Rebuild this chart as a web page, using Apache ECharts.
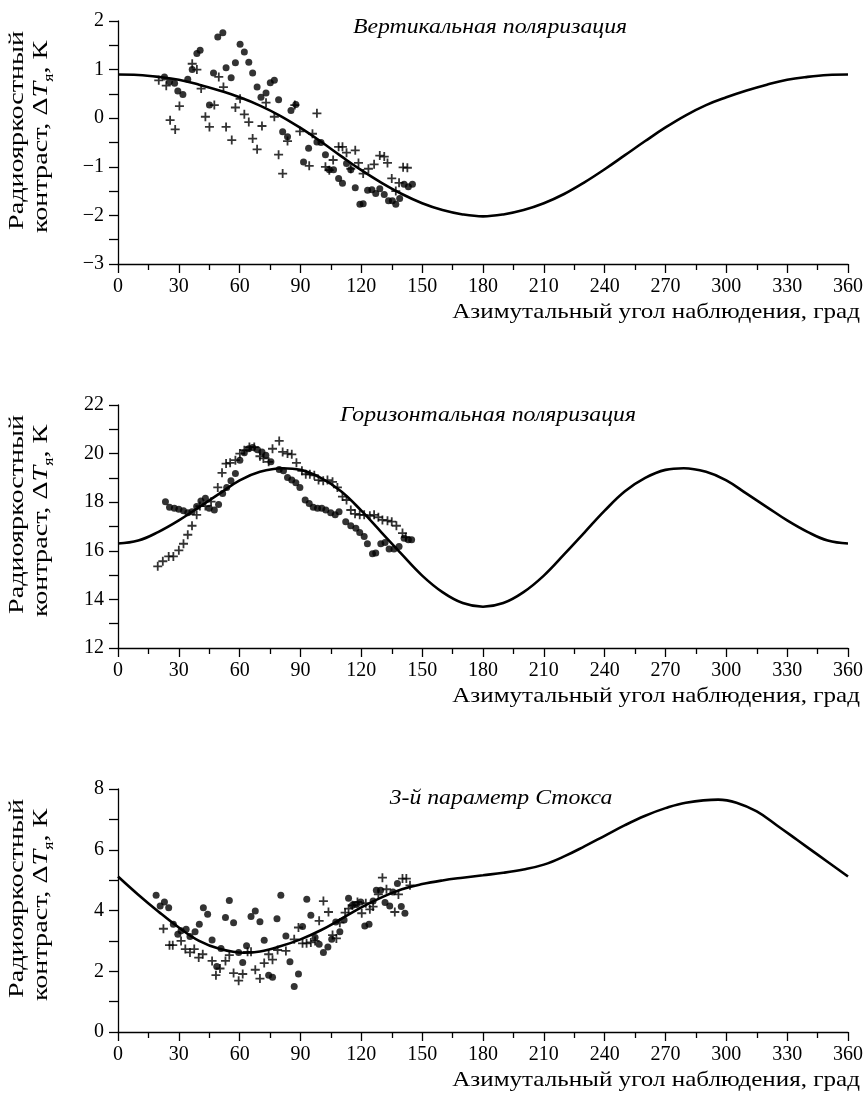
<!DOCTYPE html>
<html>
<head>
<meta charset="utf-8">
<title>Радиояркостный контраст</title>
<script src="https://cdn.jsdelivr.net/npm/echarts@6/dist/echarts.min.js"></script>
<style>
  html, body { margin: 0; padding: 0; background: #fff; }
  #chart { width: 866px; height: 1108px; }
</style>
</head>
<body>
<div id="chart"></div>
<script type="text/javascript">
// --- вертикальная поляризация ---
var vCurveX = [0, 10, 20, 30, 40, 50, 60, 70, 80, 90, 100, 110, 120, 130, 140, 150, 160, 170, 180,
               190, 200, 210, 220, 230, 240, 250, 260, 270, 280, 290, 300, 310, 320, 330, 340, 350, 360];
var vCurveY = [0.90, 0.89, 0.85, 0.79, 0.69, 0.57, 0.43, 0.26, 0.05, -0.20, -0.48, -0.78, -1.07, -1.33,
               -1.56, -1.75, -1.89, -1.98, -2.02, -1.98, -1.89, -1.75, -1.56, -1.32, -1.05, -0.76, -0.47,
               -0.19, 0.06, 0.27, 0.43, 0.57, 0.69, 0.79, 0.85, 0.89, 0.90];
var vDotX = [22.9, 25.4, 27.9, 29.5, 32.0, 34.4, 36.6, 38.9, 40.5, 45.1, 47.1, 49.2, 51.7, 53.3,
             55.8, 57.9, 60.2, 62.3, 64.5, 66.4, 68.6, 70.5, 73.0, 75.1, 77.1, 79.2, 81.2, 83.6,
             85.3, 87.7, 91.5, 94.0, 98.1, 100.1, 102.3, 104.2, 106.3, 108.8, 110.7, 112.7, 114.8,
             117.0, 119.3, 120.9, 123.1, 125.2, 127.1, 129.1, 131.3, 133.4, 135.3, 137.0, 138.9,
             141.1, 143.2, 145.2];
var vDotY = [0.85, 0.75, 0.72, 0.56, 0.49, 0.80, 1.00, 1.33, 1.40, 0.27, 0.93, 1.67, 1.76, 1.04,
             0.83, 1.14, 1.52, 1.36, 1.15, 0.93, 0.64, 0.43, 0.52, 0.73, 0.78, 0.38, -0.28, -0.38,
             0.16, 0.28, -0.90, -0.62, -0.49, -0.50, -0.75, -1.06, -1.06, -1.24, -1.34, -0.93, -1.06,
             -1.43, -1.77, -1.76, -1.48, -1.47, -1.55, -1.45, -1.57, -1.70, -1.70, -1.77, -1.65,
             -1.36, -1.41, -1.36];
var vCrossX = [20.1, 23.8, 25.7, 28.2, 30.3, 36.6, 38.9, 41.0, 43.1, 45.1, 47.5, 49.7, 52.0, 53.3,
               56.1, 57.9, 60.2, 62.3, 64.5, 66.4, 68.6, 71.0, 73.0, 77.1, 79.2, 81.2, 83.6, 87.2,
               89.7, 94.3, 95.9, 98.1, 102.3, 104.2, 106.1, 108.8, 110.7, 112.7, 114.8, 117.0, 118.6,
               120.9, 123.5, 126.3, 129.1, 131.3, 132.9, 135.0, 137.0, 138.6, 140.6, 142.7];
var vCrossY = [0.78, 0.67, -0.04, -0.23, 0.25, 1.12, 1.00, 0.61, 0.03, -0.18, 0.27, 0.85, 0.64, -0.18,
               -0.45, 0.22, 0.40, 0.08, -0.08, -0.42, -0.64, -0.16, 0.32, 0.03, -0.75, -1.14, -0.47, 0.27,
               -0.27, -0.98, -0.32, 0.10, -1.00, -1.07, -0.86, -0.59, -0.59, -0.71, -1.04, -0.66, -0.92,
               -1.14, -1.04, -0.95, -0.77, -0.79, -0.92, -1.24, -1.50, -1.33, -1.01, -1.02];

// --- горизонтальная поляризация ---
var hCurveX = [0, 10, 20, 30, 40, 50, 60, 70, 81, 90, 100, 110, 120, 130, 140, 150, 160, 170, 180,
               190, 200, 210, 220, 230, 240, 250, 260, 270, 279, 290, 300, 310, 320, 330, 340, 350, 360];
var hCurveY = [16.30, 16.42, 16.78, 17.25, 17.80, 18.35, 18.90, 19.25, 19.40, 19.33, 19.00, 18.45, 17.65,
               16.75, 15.85, 14.98, 14.30, 13.85, 13.70, 13.85, 14.30, 14.98, 15.85, 16.75, 17.65, 18.45,
               19.00, 19.33, 19.40, 19.25, 18.90, 18.35, 17.80, 17.25, 16.78, 16.42, 16.30];
var hDotX = [23.4, 25.4, 27.8, 30.0, 32.3, 34.4, 36.5, 38.8, 40.9, 43.1, 45.0, 47.5, 49.6, 51.6,
             53.6, 55.7, 57.9, 60.1, 62.3, 64.4, 66.4, 68.8, 71.0, 72.9, 75.4, 79.5, 81.6, 83.6,
             85.7, 87.7, 89.7, 92.3, 94.3, 96.3, 98.4, 100.5, 102.5, 104.9, 107.1, 109.0, 112.3,
             114.8, 117.3, 119.2, 121.4, 123.0, 125.5, 127.1, 129.6, 131.7, 133.7, 136.1, 138.6,
             141.1, 143.2, 144.8];
var hDotY = [18.02, 17.79, 17.75, 17.71, 17.65, 17.57, 17.61, 17.82, 18.05, 18.16, 17.75, 17.68, 17.91, 18.36,
             18.61, 18.88, 19.18, 19.73, 20.03, 20.20, 20.25, 20.16, 20.07, 19.93, 19.66, 19.35, 19.29, 19.02,
             18.91, 18.80, 18.61, 18.09, 17.95, 17.79, 17.75, 17.75, 17.68, 17.57, 17.48, 17.61, 17.20,
             17.03, 16.93, 16.75, 16.59, 16.29, 15.88, 15.91, 16.29, 16.34, 16.07, 16.07, 16.18,
             16.52, 16.45, 16.45];
var hCrossX = [19.6, 22.1, 25.0, 27.3, 30.0, 32.3, 34.4, 36.5, 38.8, 40.4, 43.1, 45.9, 49.2, 51.3,
               53.3, 55.3, 57.9, 60.1, 62.3, 64.8, 67.2, 70.0, 71.7, 74.3, 76.2, 79.5, 81.2, 83.6,
               85.7, 88.0, 90.7, 92.6, 94.6, 96.8, 98.9, 101.2, 103.3, 105.8, 108.2, 110.7, 112.7,
               114.8, 116.9, 119.2, 121.4, 124.2, 126.3, 128.4, 130.4, 132.9, 135.0, 137.3, 140.3, 141.9];
var hCrossY = [15.36, 15.57, 15.77, 15.77, 16.02, 16.29, 16.66, 17.03, 17.48, 17.84, 17.84, 18.02, 18.61, 19.21,
               19.59, 19.62, 19.73, 20.00, 20.14, 20.27, 20.27, 19.89, 19.80, 19.66, 20.20, 20.52, 20.07, 20.00,
               19.97, 19.62, 19.29, 19.15, 19.15, 19.11, 18.91, 18.88, 18.91, 18.84, 18.61, 18.23, 18.09,
               17.68, 17.52, 17.48, 17.48, 17.44, 17.48, 17.38, 17.27, 17.24, 17.20, 17.03, 16.73, 16.56];

// --- 3-й параметр Стокса ---
var sCurveX = [0, 10, 20, 30, 40, 50, 62, 70, 80, 90, 100, 110, 120, 130, 140, 150, 160, 170, 180,
               190, 200, 210, 220, 230, 240, 250, 260, 270, 280, 296, 305, 315, 325, 335, 345, 360];
var sCurveY = [5.12, 4.52, 3.96, 3.44, 3.00, 2.74, 2.61, 2.65, 2.82, 3.05, 3.35, 3.72, 4.10, 4.43,
               4.70, 4.87, 4.99, 5.08, 5.16, 5.24, 5.35, 5.51, 5.78, 6.11, 6.46, 6.81, 7.12, 7.37,
               7.55, 7.65, 7.55, 7.26, 6.80, 6.32, 5.84, 5.12];
var sDotX = [18.8, 20.8, 22.9, 25.0, 27.3, 29.5, 31.1, 33.6, 35.5, 38.0, 40.1, 42.1, 44.2, 46.4,
             48.7, 50.8, 53.0, 54.9, 57.0, 59.5, 61.5, 63.4, 65.6, 67.7, 70.0, 72.1, 74.3, 76.2,
             78.4, 80.3, 82.8, 84.8, 86.9, 89.0, 91.0, 93.1, 95.1, 97.2, 99.2, 101.3, 103.5, 105.4,
             107.4, 109.4, 111.5, 113.7, 115.6, 117.6, 119.7, 121.7, 123.8, 125.8, 127.4, 129.5,
             131.7, 134.0, 135.6, 137.8, 139.7, 141.5];
var sDotY = [4.50, 4.15, 4.28, 4.09, 3.55, 3.22, 3.33, 3.38, 3.14, 3.30, 3.55, 4.09, 3.88, 3.03,
             2.16, 2.75, 3.77, 4.33, 3.60, 2.62, 2.29, 2.84, 3.80, 3.98, 3.63, 3.02, 1.87, 1.80,
             3.73, 4.50, 3.16, 2.31, 1.50, 1.91, 3.47, 4.37, 3.84, 3.11, 2.89, 2.62, 2.80, 3.05,
             3.62, 3.30, 3.69, 4.40, 4.17, 4.20, 4.28, 3.49, 3.55, 4.31, 4.67, 4.67,
             4.26, 4.15, 4.61, 4.89, 4.13, 3.91];
var sCrossX = [22.4, 25.4, 27.0, 31.1, 33.2, 35.5, 37.6, 39.8, 41.8, 46.4, 48.3, 50.3, 53.0, 54.9,
               57.0, 59.5, 61.5, 63.9, 65.6, 67.7, 70.0, 72.1, 74.3, 76.2, 78.7, 82.8, 86.9, 89.0,
               91.0, 93.0, 95.1, 97.2, 99.2, 101.3, 103.8, 105.8, 107.7, 109.4, 112.0, 113.7, 115.6,
               118.1, 120.2, 122.2, 124.2, 125.8, 128.4, 130.4, 132.4, 136.5, 138.3, 140.3, 142.2, 144.0];
var sCrossY = [3.40, 2.86, 2.86, 3.00, 2.73, 2.62, 2.73, 2.45, 2.56, 2.34, 1.87, 2.09, 2.34, 2.53,
               1.94, 1.69, 1.91, 2.64, 2.64, 2.05, 1.76, 2.27, 2.56, 2.38, 2.70, 2.67, 3.05, 3.44,
               2.92, 2.92, 2.95, 3.00, 3.66, 4.31, 3.95, 3.19, 3.08, 3.60, 3.93, 4.06, 4.17,
               4.28, 3.91, 4.24, 4.04, 4.13, 4.53, 5.08, 4.70, 3.95, 4.53, 5.05, 5.05, 4.83];

var xTicks = {min: 0, max: 360, step: 30};
var panelTitles = ['Вертикальная поляризация', 'Горизонтальная поляризация', '3-й параметр Стокса'];
var yRanges = [[-3, 2, 1], [12, 22, 2], [0, 8, 2]];
var xTitle = 'Азимутальный угол наблюдения, град';

var FONT = '"Liberation Serif", "DejaVu Serif", serif';
var chart = echarts.init(document.getElementById('chart'));

function pairs(xs, ys) {
    return xs.map(function (x, i) { return [x, ys[i]]; });
}

var panelData = [
    {lx: vCurveX, ly: vCurveY, dx: vDotX, dy: vDotY, cx: vCrossX, cy: vCrossY},
    {lx: hCurveX, ly: hCurveY, dx: hDotX, dy: hDotY, cx: hCrossX, cy: hCrossY},
    {lx: sCurveX, ly: sCurveY, dx: sDotX, dy: sDotY, cx: sCrossX, cy: sCrossY}
];

var plotLeft = 118, plotRight = 849, plotH = 243;
var panelTop = [21, 405, 789];
var titlePos = [[490, 27], [488, 415], [501, 798]];

// крестик "+"
var plusPath = 'path://M4,0h2v4h4v2h-4v4h-2v-4h-4v-2h4z';

var grids = [], xAxes = [], yAxes = [], series = [], graphics = [];

panelData.forEach(function (p, i) {
    grids.push({left: plotLeft, width: plotRight - plotLeft, top: panelTop[i], height: plotH});

    xAxes.push({
        type: 'value', gridIndex: i,
        min: xTicks.min, max: xTicks.max, interval: xTicks.step,
        axisLine: {show: true, onZero: false, lineStyle: {color: '#000', width: 1.3}},
        axisTick: {show: true, length: 9, lineStyle: {color: '#000', width: 1.3}},
        minorTick: {show: true, splitNumber: 2, length: 6, lineStyle: {color: '#000', width: 1.3}},
        axisLabel: {color: '#000', fontFamily: FONT, fontSize: 20, margin: 13},
        splitLine: {show: false}
    });

    yAxes.push({
        type: 'value', gridIndex: i,
        min: yRanges[i][0], max: yRanges[i][1], interval: yRanges[i][2],
        axisLine: {show: true, lineStyle: {color: '#000', width: 1.3}},
        axisTick: {show: true, length: 9, lineStyle: {color: '#000', width: 1.3}},
        minorTick: {show: true, splitNumber: 2, length: 9, lineStyle: {color: '#000', width: 1.3}},
        axisLabel: {
            color: '#000', fontFamily: FONT, fontSize: 20, margin: 14,
            formatter: function (v) { return v < 0 ? '\u2212' + (-v) : String(v); }
        },
        splitLine: {show: false}
    });

    series.push({
        type: 'line', xAxisIndex: i, yAxisIndex: i,
        data: pairs(p.lx, p.ly),
        smooth: 0.4, showSymbol: false, silent: true,
        lineStyle: {color: '#000', width: 2.6}, z: 3
    });
    series.push({
        type: 'scatter', xAxisIndex: i, yAxisIndex: i,
        data: pairs(p.dx, p.dy),
        symbol: 'circle', symbolSize: 7,
        itemStyle: {color: '#000'}, z: 4
    });
    series.push({
        type: 'scatter', xAxisIndex: i, yAxisIndex: i,
        data: pairs(p.cx, p.cy),
        symbol: plusPath, symbolSize: 9,
        itemStyle: {color: '#000'}, z: 4
    });

    var bottom = panelTop[i] + plotH;

    // надпись на панели
    graphics.push({
        type: 'text', x: titlePos[i][0], y: titlePos[i][1], scaleX: 1.08,
        style: {text: panelTitles[i], fill: '#000', font: 'italic 22px ' + FONT,
                textAlign: 'center', textVerticalAlign: 'middle'}
    });
    // подпись оси X
    graphics.push({
        type: 'text', x: 860, y: bottom + 48, scaleX: 1.14,
        style: {text: xTitle, fill: '#000', font: '22px ' + FONT,
                textAlign: 'right', textVerticalAlign: 'middle'}
    });
    // подпись оси Y (две строки)
    graphics.push({
        type: 'text', x: 17, y: bottom - 34, rotation: Math.PI / 2, scaleX: 1.28,
        style: {text: 'Радиояркостный', fill: '#000', font: '22px ' + FONT,
                textAlign: 'left', textVerticalAlign: 'middle'}
    });
    graphics.push({
        type: 'text', x: 41, y: bottom - 31, rotation: Math.PI / 2, scaleX: 1.28,
        style: {
            text: 'контраст, Δ{i|T}{s|я}, К',
            fill: '#000', font: '22px ' + FONT,
            textAlign: 'left', textVerticalAlign: 'middle',
            rich: {
                i: {fontFamily: FONT, fontSize: 22, fontStyle: 'italic', lineHeight: 30},
                s: {fontFamily: FONT, fontSize: 14, lineHeight: 14, verticalAlign: 'bottom'}
            }
        }
    });
});

var option = {
    backgroundColor: '#fff',
    animation: false,
    grid: grids,
    xAxis: xAxes,
    yAxis: yAxes,
    series: series,
    graphic: graphics
};

chart.setOption(option);
</script>
</body>
</html>
